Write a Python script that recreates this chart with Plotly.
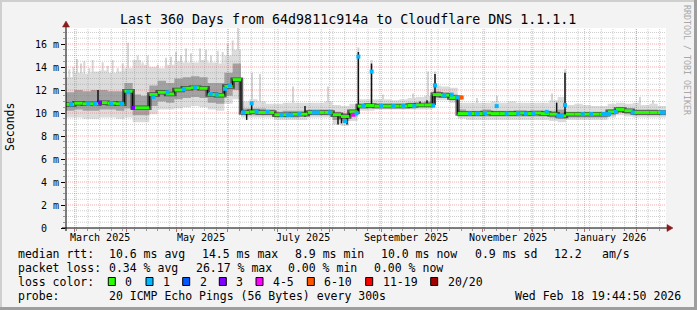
import pandas as pd
import plotly.graph_objects as go

# ---------------- data ----------------
START = pd.Timestamp("2025-02-23 19:44:50")
END = pd.Timestamp("2026-02-18 19:44:50")
BIN_DAYS = 5

median_ms = [10.75, 10.85, 10.8, 10.8, 10.9, 10.85, 10.8, 11.9, 10.45, 10.45,
             11.6, 11.8, 11.65, 12.0, 12.15, 12.2, 12.15, 11.6, 11.55, 12.3,
             12.9, 10.05, 10.1, 10.05, 10.05, 9.85, 9.85, 9.9, 9.9, 10.05,
             10.05, 10.05, 9.85, 9.7, 10.1, 10.6, 10.65, 10.6, 10.6, 10.6,
             10.6, 10.65, 10.7, 10.7, 11.6, 11.55, 11.35, 9.95, 9.95, 9.95,
             10.0, 9.95, 9.95, 9.95, 10.0, 9.95, 10.0, 9.95, 9.9, 9.75,
             9.9, 9.9, 9.9, 9.9, 9.9, 10.1, 10.3, 10.2, 10.05, 10.05,
             10.05, 10.05]
smoke_max = [13.1, 13.5, 13.4, 13.6, 13.7, 13.5, 13.6, 13.9, 14.6, 14.2,
             14.0, 13.9, 14.2, 14.5, 14.4, 14.4, 14.6, 14.4, 14.3, 15.0,
             15.5, 11.0, 11.2, 11.0, 10.8, 10.8, 10.9, 10.9, 10.9, 10.9,
             10.9, 11.0, 10.7, 10.6, 10.8, 11.2, 11.2, 11.2, 11.2, 11.1,
             11.2, 11.3, 11.4, 11.5, 12.4, 12.3, 12.2, 10.9, 10.9, 10.9,
             10.9, 11.0, 10.9, 11.0, 10.9, 10.9, 10.9, 10.9, 11.1, 11.4,
             10.7, 10.8, 10.7, 10.6, 10.6, 10.8, 10.9, 10.8, 10.9, 10.7,
             10.8, 10.6]
smoke_hi = [11.8, 12.0, 11.9, 12.0, 12.0, 11.9, 11.9, 12.6, 11.6, 11.5,
            12.4, 12.8, 12.6, 13.0, 13.1, 13.2, 13.1, 12.6, 12.6, 13.5,
            14.3, 10.4, 10.4, 10.4, 10.3, 10.1, 10.2, 10.2, 10.2, 10.3,
            10.3, 10.3, 10.1, 10.0, 10.3, 10.8, 10.8, 10.8, 10.8, 10.8,
            10.8, 10.9, 10.9, 11.0, 11.9, 11.8, 11.6, 10.3, 10.2, 10.2,
            10.3, 10.2, 10.2, 10.2, 10.2, 10.2, 10.2, 10.2, 10.2, 10.3,
            10.1, 10.1, 10.1, 10.1, 10.1, 10.3, 10.5, 10.4, 10.3, 10.3,
            10.3, 10.2]
smoke_lo = [10.2, 10.3, 10.2, 10.2, 10.3, 10.3, 10.2, 10.4, 9.8, 9.8,
            10.6, 11.0, 10.9, 11.2, 11.3, 11.4, 11.3, 10.9, 10.8, 11.5,
            12.0, 9.8, 9.8, 9.8, 9.8, 9.6, 9.6, 9.6, 9.7, 9.8,
            9.8, 9.8, 9.4, 9.3, 9.7, 10.4, 10.4, 10.4, 10.4, 10.4,
            10.4, 10.4, 10.5, 10.5, 11.3, 11.3, 11.1, 9.7, 9.7, 9.7,
            9.7, 9.7, 9.7, 9.7, 9.7, 9.7, 9.7, 9.7, 9.6, 9.5,
            9.6, 9.6, 9.6, 9.6, 9.6, 9.8, 10.0, 9.9, 9.8, 9.8,
            9.8, 9.8]
smoke_min = [9.6, 9.6, 9.5, 9.5, 9.6, 9.6, 9.5, 9.6, 9.2, 9.2,
             9.9, 10.3, 10.3, 10.4, 10.5, 10.6, 10.5, 10.3, 10.2, 10.8,
             11.2, 9.6, 9.6, 9.6, 9.6, 9.4, 9.4, 9.4, 9.4, 9.6,
             9.6, 9.6, 9.0, 8.9, 9.3, 10.2, 10.2, 10.3, 10.3, 10.3,
             10.3, 10.3, 10.3, 10.3, 11.1, 11.1, 10.9, 9.5, 9.4, 9.4,
             9.4, 9.4, 9.4, 9.4, 9.4, 9.4, 9.4, 9.4, 9.3, 9.2,
             9.4, 9.4, 9.4, 9.4, 9.4, 9.6, 9.8, 9.7, 9.6, 9.6,
             9.6, 9.6]

# narrow median excursions (days after START, low, high in ms)
spike_day = [19.2, 108.4, 111.4, 143.4, 163.2, 165.3, 168.6, 175.4, 183.3,
             212.4, 216.6, 221.4, 294.4, 299.4]
spike_lo = [10.8, 9.4, 10.1, 9.7, 9.0, 9.1, 9.0, 10.1, 10.6,
            10.6, 10.6, 10.7, 9.8, 9.8]
spike_hi = [12.0, 10.1, 10.9, 10.6, 9.8, 9.8, 9.8, 15.3, 14.3,
            11.0, 11.1, 13.4, 10.9, 13.5]

# narrow light smoke excursions
smoke_spike_day = [2.0, 4.5, 6.6, 9.0, 11.0, 14.0, 16.0, 22.0, 25.0, 28.0,
                   31.0, 34.0, 37.2, 43.0, 46.0, 49.0, 55.0, 60.0, 63.0, 66.0,
                   69.0, 72.0, 75.0, 80.4, 84.0, 87.0, 91.0, 94.0, 97.0, 100.0,
                   103.2, 111.6, 116.4, 136.2, 157.2, 175.4, 183.3, 190.2, 208.2,
                   217.2, 221.4, 246.6, 258.6, 291.6, 299.4, 344.4, 352.2]
smoke_spike_lo = [11.0, 11.0, 10.8, 11.0, 11.0, 11.0, 11.0, 11.0, 11.0, 11.0,
                  11.0, 11.0, 11.0, 10.5, 10.5, 10.5, 11.5, 12.0, 12.0, 12.0,
                  12.0, 12.0, 12.0, 12.0, 12.0, 11.6, 11.6, 12.0, 12.5, 12.5,
                  12.9, 10.1, 10.1, 9.9, 10.0, 10.1, 10.6, 10.6, 10.6,
                  10.7, 10.7, 10.0, 10.0, 9.9, 9.8, 10.0, 10.0]
smoke_spike_hi = [13.8, 14.0, 14.7, 14.3, 14.5, 13.9, 14.6, 14.4, 14.1, 14.6,
                  13.9, 14.3, 16.1, 15.0, 14.4, 15.0, 14.2, 14.8, 14.9, 15.3,
                  15.0, 15.6, 15.2, 15.6, 15.5, 15.0, 15.4, 15.3, 16.0, 16.3,
                  17.4, 13.5, 13.4, 12.3, 12.3, 15.7, 14.6, 11.6, 11.7,
                  13.6, 13.6, 11.3, 11.5, 11.7, 13.8, 11.4, 11.1]

# median points with packet loss (days after START, ms, lost pings)
loss_day = [13.4, 17.4, 20.4, 33.4, 37.4, 40.2, 52.4, 70.8, 77.4, 86.8,
            90.4, 95.4, 98.4, 106.4, 111.4, 114.4, 129.4, 133.2, 135.0, 148.8,
            151.2, 158.4, 167.4, 172.4, 174.4, 175.4, 178.4, 183.4, 196.4, 202.4,
            220.4, 221.4, 231.4, 234.6, 236.4, 237.4, 242.4, 251.4, 258.4, 264.4,
            271.4, 280.4, 288.4, 295.4, 297.4, 299.4, 322.2, 324.0, 325.8, 357.6,
            359.4, 3.0, 27.0, 61.0, 121.0, 140.0, 189.0, 209.0, 227.0, 247.0,
            276.0, 310.0, 315.0, 330.0, 340.0]
loss_val = [10.8, 10.8, 10.9, 10.8, 11.8, 10.45, 11.4, 12.05, 12.2, 11.65,
            11.6, 12.1, 12.4, 10.05, 10.85, 10.1, 9.85, 9.85, 9.85, 10.05,
            10.05, 10.05, 9.3, 9.85, 10.0, 14.9, 10.6, 13.6, 10.6, 10.6,
            10.65, 12.4, 11.6, 11.35, 11.35, 11.35, 9.95, 10.0, 10.6, 9.95,
            9.95, 9.95, 10.1, 9.75, 9.75, 10.7, 9.9, 9.9, 9.9, 10.05,
            10.05, 10.75, 10.85, 11.8, 10.1, 9.9, 10.6, 10.6, 11.55, 9.95,
            9.95, 9.9, 9.9, 10.1, 10.05]
loss_cnt = [1, 1, 3, 1, 1, 3, 1, 1, 1, 1,
            1, 1, 1, 1, 1, 1, 1, 1, 1, 1,
            1, 1, 1, 4, 1, 1, 1, 1, 1, 1,
            1, 1, 1, 1, 1, 6, 1, 1, 1, 1,
            1, 1, 1, 1, 1, 1, 1, 1, 1, 1,
            1, 1, 1, 1, 1, 1, 1, 1, 1, 1,
            1, 1, 1, 1, 1]

y_tick_vals = [0, 2, 4, 6, 8, 10, 12, 14, 16]
y_tick_text = ["0\u00a0\u00a0", "2 m", "4 m", "6 m", "8 m", "10 m", "12 m", "14 m", "16 m"]
month_label_dates = ["2025-03-16", "2025-05-16", "2025-07-16",
                     "2025-09-16", "2025-11-16", "2026-01-16"]
month_labels = ["March 2025", "May 2025", "July 2025",
                "September 2025", "November 2025", "January 2026"]

legend_colors = ["#26ff00", "#00b8ff", "#0059ff", "#7e00ff",
                 "#ff00ff", "#ff5500", "#ff0000", "#a10000"]
legend_names = ["0", "1", "2", "3", "4-5", "6-10", "11-19", "20/20"]

# ---------------- layout constants ----------------
W, H = 697, 310
PL, PT, PW, PH = 66, 28, 600, 200
YMAX = 200 / 11.5
MONO = "DejaVu Sans Mono"


def px(x):
    return (x - PL) / PW


def py(y):
    return (PT + PH - y) / PH


def loss_color(n):
    if n <= 0:
        return legend_colors[0]
    if n <= 3:
        return legend_colors[n]
    if n <= 5:
        return legend_colors[4]
    if n <= 10:
        return legend_colors[5]
    if n <= 19:
        return legend_colors[6]
    return legend_colors[7]


def day_ts(d):
    return START + pd.Timedelta(days=d)


bin_x = [day_ts(BIN_DAYS * i) for i in range(len(median_ms) + 1)]

fig = go.Figure()


def add_band(lo, hi, color):
    fig.add_trace(go.Scatter(x=bin_x, y=lo + [lo[-1]], mode="lines",
                             line=dict(width=0, shape="hv"), hoverinfo="skip",
                             showlegend=False))
    fig.add_trace(go.Scatter(x=bin_x, y=hi + [hi[-1]], mode="lines",
                             line=dict(width=0, shape="hv"), fill="tonexty",
                             fillcolor=color, hoverinfo="skip", showlegend=False))


def vsegs(days, lo, hi):
    xs, ys = [], []
    for d, a, b in zip(days, lo, hi):
        xs += [day_ts(d), day_ts(d), None]
        ys += [a, b, None]
    return xs, ys


# light smoke spikes
sx, sy = vsegs(smoke_spike_day, smoke_spike_lo, smoke_spike_hi)
fig.add_trace(go.Scatter(x=sx, y=sy, mode="lines", line=dict(color="#d6d6d6", width=2),
                         hoverinfo="skip", showlegend=False))
# smoke bands
add_band(smoke_min, smoke_max, "#dcdcdc")
add_band(smoke_lo, smoke_hi, "#a2a2a2")

# grid (drawn over smoke like rrdtool)
gx, gy = [], []
for i in range(1, 35):
    v = i * 0.5
    if v % 2 != 0:
        gx += [START, END, None]
        gy += [v, v, None]
for d in pd.date_range("2025-03-02", "2026-02-15", freq="7D"):
    gx += [d, d, None]
    gy += [0, YMAX, None]
fig.add_trace(go.Scatter(x=gx, y=gy, mode="lines",
                         line=dict(color="rgba(128,128,128,0.38)", width=1, dash="1px,1px"),
                         hoverinfo="skip", showlegend=False))
mx, my = [], []
for v in y_tick_vals[1:]:
    mx += [START, END, None]
    my += [v, v, None]
month_starts = pd.date_range("2025-03-01", "2026-02-01", freq="MS")
for d in month_starts:
    mx += [d, d, None]
    my += [0, YMAX, None]
fig.add_trace(go.Scatter(x=mx, y=my, mode="lines",
                         line=dict(color="rgba(235,70,70,0.45)", width=1, dash="1px,1px"),
                         hoverinfo="skip", showlegend=False))

# dark core around the median
fig.add_trace(go.Scatter(x=bin_x, y=median_ms + [median_ms[-1]], mode="lines",
                         line=dict(color="rgba(50,50,50,0.75)", width=4.5, shape="hv"),
                         hoverinfo="skip", showlegend=False))
# median excursions
kx, ky = vsegs(spike_day, spike_lo, spike_hi)
fig.add_trace(go.Scatter(x=kx, y=ky, mode="lines", line=dict(color="#111111", width=1.5),
                         hoverinfo="skip", showlegend=False))
# median black line
fig.add_trace(go.Scatter(x=bin_x, y=median_ms + [median_ms[-1]], mode="lines",
                         line=dict(color="#000000", width=1, shape="hv"),
                         hoverinfo="skip", showlegend=False))
# colored (loss 0) median segments
hx, hy = [], []
for i, v in enumerate(median_ms):
    hx += [bin_x[i], bin_x[i + 1], None]
    hy += [v, v, None]
fig.add_trace(go.Scatter(x=hx, y=hy, mode="lines", line=dict(color=legend_colors[0], width=3),
                         hoverinfo="skip", showlegend=False))
# loss points
fig.add_trace(go.Scatter(x=[day_ts(d) for d in loss_day], y=loss_val, mode="markers",
                         marker=dict(symbol="square", size=4,
                                     color=[loss_color(n) for n in loss_cnt],
                                     line=dict(width=0)),
                         hoverinfo="skip", showlegend=False))

shapes = []
# frame
shapes.append(dict(type="rect", xref="paper", yref="paper", x0=px(0), x1=px(2), y0=py(310), y1=py(0),
                   fillcolor="#cfcfcf", line=dict(width=0), layer="below"))
shapes.append(dict(type="rect", xref="paper", yref="paper", x0=px(0), x1=px(697), y0=py(2), y1=py(0),
                   fillcolor="#cfcfcf", line=dict(width=0), layer="below"))
shapes.append(dict(type="rect", xref="paper", yref="paper", x0=px(694), x1=px(697), y0=py(310), y1=py(0),
                   fillcolor="#9e9e9e", line=dict(width=0), layer="below"))
shapes.append(dict(type="rect", xref="paper", yref="paper", x0=px(0), x1=px(697), y0=py(310), y1=py(307),
                   fillcolor="#9e9e9e", line=dict(width=0), layer="below"))
# axes with arrows
shapes.append(dict(type="line", xref="paper", yref="paper", x0=px(62), x1=px(668), y0=py(228), y1=py(228),
                   line=dict(color="#000000", width=1)))
shapes.append(dict(type="line", xref="paper", yref="paper", x0=px(66), x1=px(66), y0=py(231), y1=py(24),
                   line=dict(color="#000000", width=1)))
shapes.append(dict(type="path", xref="paper", yref="paper",
                   path=f"M {px(667)},{py(224.5)} L {px(673)},{py(228)} L {px(667)},{py(231.5)} Z",
                   fillcolor="#8b1a1a", line=dict(color="#8b1a1a", width=0.5)))
shapes.append(dict(type="path", xref="paper", yref="paper",
                   path=f"M {px(62.5)},{py(27)} L {px(66)},{py(21)} L {px(69.5)},{py(27)} Z",
                   fillcolor="#8b1a1a", line=dict(color="#8b1a1a", width=0.5)))

annotations = []


def txt(x, y, s, size=11.5, color="#000000", xanchor="left", angle=0):
    annotations.append(dict(xref="paper", yref="paper", x=px(x), y=py(y), text=s,
                            showarrow=False, xanchor=xanchor, yanchor="middle",
                            textangle=angle,
                            font=dict(family=MONO, size=size, color=color)))


txt(348, 19, "Last 360 Days from 64d9811c914a to Cloudflare DNS 1.1.1.1", size=13.3, xanchor="center")
txt(10, 127, "Seconds", size=11.5, xanchor="center", angle=-90)
txt(687, 60, "RRDTOOL / TOBI OETIKER", size=8.3, color="#a8a8a8", xanchor="center", angle=90)

for d, s in zip(month_label_dates, month_labels):
    annotations.append(dict(xref="x", yref="paper", x=pd.Timestamp(d), y=py(237.5), text=s,
                            showarrow=False, xanchor="center", yanchor="middle",
                            font=dict(family=MONO, size=10, color="#000000")))

L1, L2, L3, L4 = 254, 268, 281.5, 295.5
txt(16, L1, "median rtt:")
for x, s in [(107.3, "10.6 ms avg"), (200, "14.5 ms max"), (293.3, "8.9 ms min"),
             (379.3, "10.0 ms now"), (472.5, "0.9 ms sd"), (551.7, "12.2"), (600, "am/s")]:
    txt(x, L1, s)
txt(16, L2, "packet loss:")
for x, s in [(107.3, "0.34 % avg"), (194.3, "26.17 % max"), (286, "0.00 % min"), (372.3, "0.00 % now")]:
    txt(x, L2, s)
txt(16, L3, "loss color:")
box_x = [108.3, 146, 182.7, 219.3, 256, 307.3, 365.7, 430.7]
for bx, c, n in zip(box_x, legend_colors, legend_names):
    shapes.append(dict(type="rect", xref="paper", yref="paper", x0=px(bx), x1=px(bx + 7),
                       y0=py(285.5), y1=py(277.5), fillcolor=c, line=dict(color="#000000", width=1)))
    txt(bx + 15, L3, n)
txt(16, L4, "probe:")
txt(107.3, L4, "20 ICMP Echo Pings (56 Bytes) every 300s")
txt(512.7, L4, "Wed Feb 18 19:44:50 2026")

fig.update_layout(
    width=W, height=H,
    margin=dict(l=PL, r=W - PL - PW, t=PT, b=H - PT - PH, pad=0),
    paper_bgcolor="#f3f3f3", plot_bgcolor="#ffffff",
    showlegend=False,
    shapes=shapes, annotations=annotations,
    xaxis=dict(type="date", range=[START, END], showgrid=False, zeroline=False,
               tickvals=list(month_starts), showticklabels=False,
               ticks="outside", ticklen=3, tickcolor="#cc6666", showline=False,
               minor=dict(tick0="2025-03-02", dtick=7 * 86400000, ticks="outside",
                          ticklen=2, tickcolor="#999999", showgrid=False)),
    yaxis=dict(range=[0, YMAX], showgrid=False, zeroline=False, showline=False,
               tickvals=y_tick_vals, ticktext=y_tick_text, ticks="outside", ticklen=4,
               tickcolor="#000000",
               tickfont=dict(family=MONO, size=10, color="#000000"),
               minor=dict(dtick=0.5, ticks="outside", ticklen=2, tickcolor="#999999")),
)

fig.write_html("out.html")
